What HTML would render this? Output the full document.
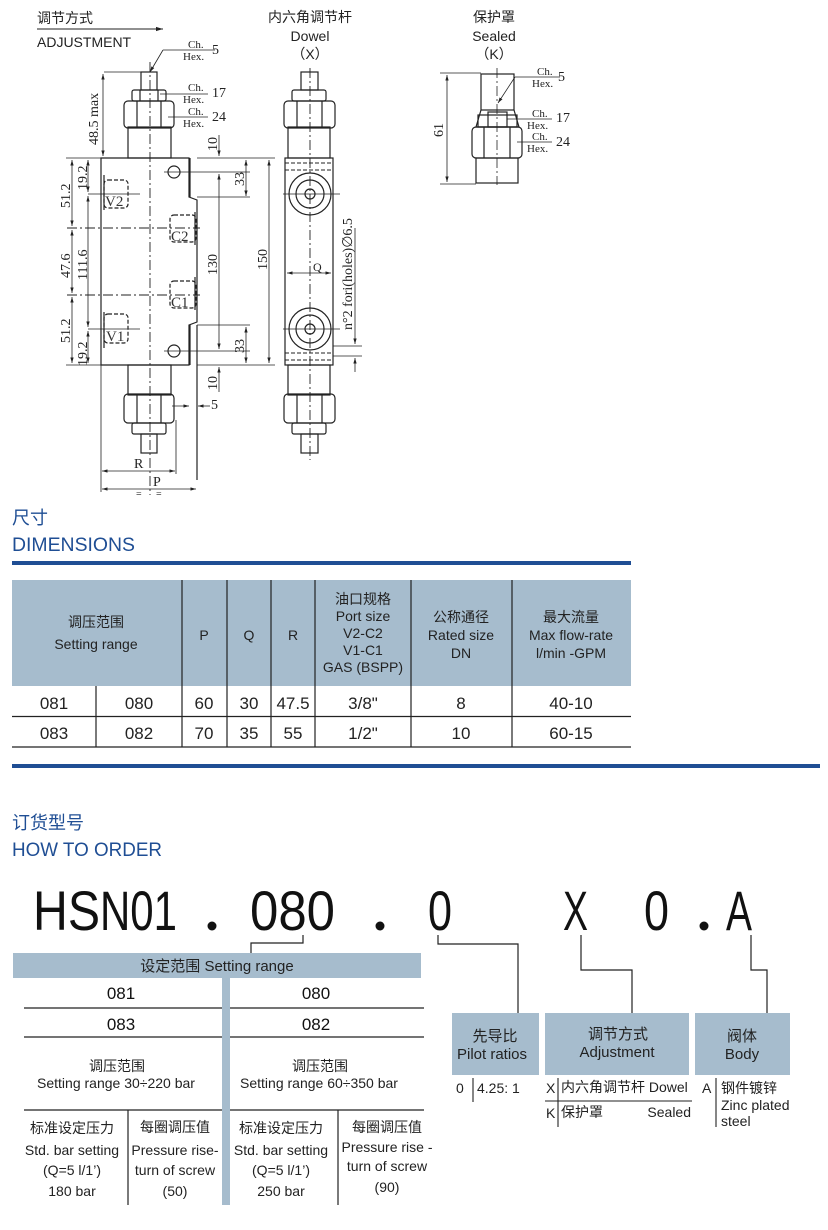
<!DOCTYPE html>
<html><head><meta charset="utf-8"><style>
html,body{margin:0;padding:0;background:#fff;}
svg{display:block}
.cn{font-family:"Liberation Sans","Noto Sans CJK SC",sans-serif}
.sr{font-family:"Liberation Serif",serif}
</style></head><body>
<svg width="828" height="1230" viewBox="0 0 828 1230" xmlns="http://www.w3.org/2000/svg" class="cn">
<defs>
<marker id="ar" viewBox="0 0 10 10" refX="10" refY="5" markerWidth="7" markerHeight="7" orient="auto-start-reverse"><path d="M0,2 L10,5 L0,8z" fill="#222"/></marker>
</defs>
<!-- ===== DRAWING ===== -->
<g fill="none" stroke="#222" stroke-width="1">
<!-- titles -->
</g>
<text x="37" y="23" font-size="14" fill="#222">调节方式</text>
<line x1="37" y1="29" x2="163" y2="29" stroke="#222" marker-end="url(#ar)"/>
<text x="37" y="47" font-size="14" fill="#222">ADJUSTMENT</text>
<text x="310" y="22" font-size="14" fill="#222" text-anchor="middle">内六角调节杆</text>
<text x="310" y="41" font-size="14" fill="#222" text-anchor="middle">Dowel</text>
<text x="310" y="59" font-size="14" fill="#222" text-anchor="middle">（X）</text>
<text x="494" y="22" font-size="14" fill="#222" text-anchor="middle">保护罩</text>
<text x="494" y="41" font-size="14" fill="#222" text-anchor="middle">Sealed</text>
<text x="494" y="59" font-size="14" fill="#222" text-anchor="middle">（K）</text>

<g fill="none" stroke="#222" stroke-width="1.2">
<!-- left body -->
<path d="M101,158 H189 V197 L197,200 V322 L189,325 V365 H101 Z"/>
<rect x="128" y="127" width="43" height="31"/>
<rect x="124" y="101" width="50" height="27" rx="4"/>
<line x1="137" y1="101" x2="137" y2="128"/><line x1="161" y1="101" x2="161" y2="128"/>
<rect x="132" y="90" width="34" height="11" rx="2"/>
<line x1="140" y1="90" x2="140" y2="101"/><line x1="158" y1="90" x2="158" y2="101"/>
<rect x="141" y="72" width="16" height="18"/>
<rect x="128" y="365" width="43" height="30"/>
<rect x="124" y="394" width="50" height="29" rx="4"/>
<line x1="137" y1="394" x2="137" y2="423"/><line x1="161" y1="394" x2="161" y2="423"/>
<rect x="132" y="423" width="34" height="11" rx="2"/>
<rect x="141" y="434" width="16" height="19"/>
<circle cx="174" cy="172" r="6"/><circle cx="174" cy="351" r="6"/>
<line x1="190" y1="158" x2="190" y2="197"/>
<line x1="190" y1="325" x2="190" y2="365"/>
<line x1="197" y1="325" x2="197" y2="480"/>
<line x1="104" y1="175" x2="104" y2="210"/><line x1="104" y1="312" x2="104" y2="348"/>
<line x1="195" y1="212" x2="195" y2="245"/><line x1="195" y1="277" x2="195" y2="310"/>
</g>
<g fill="none" stroke="#222" stroke-width="1.2" stroke-dasharray="4,2">
<rect x="104" y="180" width="24" height="28" rx="4"/>
<rect x="104" y="314" width="24" height="29" rx="4"/>
<rect x="170" y="215" width="26" height="27" rx="4"/>
<rect x="170" y="281" width="26" height="27" rx="4"/>
</g>
<g font-family="Liberation Serif,serif" font-size="15" fill="#333">
<text x="105" y="206">V2</text><text x="106" y="341">V1</text>
<text x="171" y="241">C2</text><text x="171" y="307">C1</text>
</g>
<g stroke="#222" stroke-width="0.9" fill="none" stroke-dasharray="10,3,2,3">
<line x1="150" y1="62" x2="150" y2="495"/>
<line x1="67" y1="228" x2="200" y2="228"/>
<line x1="67" y1="295" x2="200" y2="295"/>
<line x1="310" y1="68" x2="310" y2="460"/>
</g>
<g stroke="#222" stroke-width="0.8" fill="none">
<line x1="88" y1="194" x2="140" y2="194"/><line x1="88" y1="329" x2="140" y2="329"/>
<line x1="164" y1="172" x2="250" y2="172"/><line x1="164" y1="351" x2="250" y2="351"/>
<!-- extension lines -->
<line x1="66" y1="158" x2="101" y2="158"/><line x1="66" y1="365" x2="101" y2="365"/>
<line x1="104" y1="72" x2="141" y2="72"/>
<line x1="197" y1="158" x2="275" y2="158"/><line x1="197" y1="365" x2="275" y2="365"/>
<line x1="197" y1="197" x2="250" y2="197"/><line x1="197" y1="325" x2="250" y2="325"/>
<line x1="101" y1="365" x2="101" y2="492"/><line x1="176" y1="420" x2="176" y2="474"/>
<!-- dims -->
<line x1="103" y1="74" x2="103" y2="156" marker-start="url(#ar)" marker-end="url(#ar)"/>
<line x1="72" y1="160" x2="72" y2="226" marker-start="url(#ar)" marker-end="url(#ar)"/>
<line x1="72" y1="230" x2="72" y2="293" marker-start="url(#ar)" marker-end="url(#ar)"/>
<line x1="72" y1="297" x2="72" y2="363" marker-start="url(#ar)" marker-end="url(#ar)"/>
<line x1="88" y1="160" x2="88" y2="192" marker-start="url(#ar)" marker-end="url(#ar)"/>
<line x1="88" y1="196" x2="88" y2="327" marker-start="url(#ar)" marker-end="url(#ar)"/>
<line x1="88" y1="331" x2="88" y2="363" marker-start="url(#ar)" marker-end="url(#ar)"/>
<line x1="219" y1="135" x2="219" y2="156" marker-end="url(#ar)"/>
<line x1="219" y1="174" x2="219" y2="349" marker-start="url(#ar)" marker-end="url(#ar)"/>
<line x1="219" y1="367" x2="219" y2="392" marker-start="url(#ar)"/>
<line x1="246" y1="160" x2="246" y2="196" marker-start="url(#ar)" marker-end="url(#ar)"/>
<line x1="246" y1="327" x2="246" y2="363" marker-start="url(#ar)" marker-end="url(#ar)"/>
<line x1="269" y1="160" x2="269" y2="363" marker-start="url(#ar)" marker-end="url(#ar)"/>
<line x1="172" y1="406" x2="189" y2="406" marker-end="url(#ar)"/>
<line x1="210" y1="406" x2="198" y2="406" marker-end="url(#ar)"/>
<line x1="102" y1="471" x2="175" y2="471" marker-start="url(#ar)" marker-end="url(#ar)"/>
<line x1="102" y1="489" x2="196" y2="489" marker-start="url(#ar)" marker-end="url(#ar)"/>
<!-- callouts -->
<line x1="163" y1="50" x2="215" y2="50"/><line x1="163" y1="50" x2="150" y2="72" marker-end="url(#ar)"/>
<line x1="160" y1="94" x2="208" y2="94"/>
<line x1="168" y1="117" x2="208" y2="117"/>
</g>
<g font-family="Liberation Serif,serif" fill="#222">
<text x="188" y="48" font-size="11">Ch.</text><text x="183" y="60" font-size="11">Hex.</text><text x="212" y="54" font-size="14">5</text>
<text x="188" y="91" font-size="11">Ch.</text><text x="183" y="103" font-size="11">Hex.</text><text x="212" y="97" font-size="14">17</text>
<text x="188" y="115" font-size="11">Ch.</text><text x="183" y="127" font-size="11">Hex.</text><text x="212" y="121" font-size="14">24</text>
<text transform="translate(98,145) rotate(-90)" font-size="14">48.5 max</text>
<text transform="translate(70,208) rotate(-90)" font-size="14">51.2</text>
<text transform="translate(87,190) rotate(-90)" font-size="14">19.2</text>
<text transform="translate(70,278) rotate(-90)" font-size="14">47.6</text>
<text transform="translate(87,280) rotate(-90)" font-size="14">111.6</text>
<text transform="translate(70,343) rotate(-90)" font-size="14">51.2</text>
<text transform="translate(87,366) rotate(-90)" font-size="14">19.2</text>
<text transform="translate(217,151) rotate(-90)" font-size="14">10</text>
<text transform="translate(244,186) rotate(-90)" font-size="14">33</text>
<text transform="translate(217,275) rotate(-90)" font-size="14">130</text>
<text transform="translate(267,270) rotate(-90)" font-size="14">150</text>
<text transform="translate(244,353) rotate(-90)" font-size="14">33</text>
<text transform="translate(217,390) rotate(-90)" font-size="14">10</text>
<text x="211" y="409" font-size="14">5</text>
<text x="134" y="468" font-size="14">R</text>
<text x="153" y="486" font-size="14">P</text>
<text x="136" y="497" font-size="10">=</text><text x="156" y="497" font-size="10">=</text>
<text x="313" y="271" font-size="12">Q</text>
<text transform="translate(352,330) rotate(-90)" font-size="14">n°2 fori(holes)∅6.5</text>
</g>
<!-- right dowel view -->
<g fill="none" stroke="#222" stroke-width="1.2">
<rect x="285" y="158" width="48" height="207"/>
<rect x="288" y="127" width="42" height="31"/>
<rect x="284" y="101" width="51" height="27" rx="4"/>
<line x1="297" y1="101" x2="297" y2="128"/><line x1="322" y1="101" x2="322" y2="128"/>
<rect x="292" y="90" width="34" height="11" rx="2"/>
<rect x="301" y="72" width="17" height="18"/>
<rect x="288" y="365" width="42" height="30"/>
<rect x="284" y="394" width="51" height="29" rx="4"/>
<line x1="297" y1="394" x2="297" y2="423"/><line x1="322" y1="394" x2="322" y2="423"/>
<rect x="292" y="423" width="34" height="11" rx="2"/>
<rect x="301" y="434" width="17" height="19"/>
<circle cx="310" cy="194" r="21"/><circle cx="310" cy="194" r="14"/><circle cx="310" cy="194" r="5"/>
<circle cx="310" cy="329" r="21"/><circle cx="310" cy="329" r="14"/><circle cx="310" cy="329" r="5"/>
</g>
<g stroke="#222" stroke-width="0.8" fill="none">
<line x1="283" y1="194" x2="340" y2="194"/><line x1="283" y1="329" x2="340" y2="329"/>
<line x1="287" y1="273" x2="331" y2="273" marker-start="url(#ar)" marker-end="url(#ar)"/>
<line x1="333" y1="346" x2="362" y2="346"/><line x1="333" y1="356" x2="362" y2="356"/>
<line x1="355" y1="228" x2="355" y2="344" marker-end="url(#ar)"/>
<line x1="355" y1="372" x2="355" y2="358" marker-end="url(#ar)"/>
</g>
<g fill="none" stroke="#222" stroke-width="1" stroke-dasharray="4,2">
<line x1="285" y1="170" x2="333" y2="170"/><line x1="285" y1="353" x2="333" y2="353"/>
<line x1="285" y1="163" x2="333" y2="163"/><line x1="285" y1="360" x2="333" y2="360"/>
</g>
<!-- K view -->
<g fill="none" stroke="#222" stroke-width="1.2">
<rect x="481" y="74" width="33" height="36"/>
<path d="M481,110 L476,127 H519 L514,110"/>
<rect x="488" y="112" width="19" height="15"/>
<rect x="478" y="115" width="39" height="12"/>
<rect x="472" y="127" width="50" height="31" rx="4"/>
<line x1="484" y1="127" x2="484" y2="158"/><line x1="510" y1="127" x2="510" y2="158"/>
<rect x="476" y="158" width="42" height="25"/>
</g>
<g stroke="#222" stroke-width="0.8" fill="none">
<line x1="497" y1="68" x2="497" y2="185" stroke-dasharray="10,3,2,3"/>
<line x1="440" y1="73" x2="481" y2="73"/><line x1="440" y1="184" x2="476" y2="184"/>
<line x1="447" y1="75" x2="447" y2="182" marker-start="url(#ar)" marker-end="url(#ar)"/>
<line x1="515" y1="77" x2="560" y2="77"/><line x1="515" y1="77" x2="498" y2="103" marker-end="url(#ar)"/>
<line x1="507" y1="119" x2="552" y2="119"/>
<line x1="517" y1="142" x2="552" y2="142"/>
</g>
<g font-family="Liberation Serif,serif" fill="#222">
<text x="537" y="75" font-size="11">Ch.</text><text x="532" y="87" font-size="11">Hex.</text><text x="558" y="81" font-size="14">5</text>
<text x="532" y="117" font-size="11">Ch.</text><text x="527" y="129" font-size="11">Hex.</text><text x="556" y="122" font-size="14">17</text>
<text x="532" y="140" font-size="11">Ch.</text><text x="527" y="152" font-size="11">Hex.</text><text x="556" y="146" font-size="14">24</text>
<text transform="translate(443,137) rotate(-90)" font-size="14">61</text>
</g>

<!-- ===== DIMENSIONS ===== -->
<text x="12" y="524" font-size="18" fill="#1f4e94">尺寸</text>
<text x="12" y="551" font-size="19" fill="#1f4e94" textLength="123" lengthAdjust="spacingAndGlyphs">DIMENSIONS</text>
<rect x="12" y="561" width="619" height="4" fill="#1f4e94"/>
<rect x="12" y="580" width="619" height="106" fill="#a6bccd"/>
<g stroke="#222" stroke-width="1.2">
<line x1="182" y1="580" x2="182" y2="747"/><line x1="227" y1="580" x2="227" y2="747"/>
<line x1="271" y1="580" x2="271" y2="747"/><line x1="315" y1="580" x2="315" y2="747"/>
<line x1="411" y1="580" x2="411" y2="747"/><line x1="512" y1="580" x2="512" y2="747"/>
<line x1="96" y1="686" x2="96" y2="747"/>
<line x1="12" y1="716.5" x2="631" y2="716.5"/><line x1="12" y1="747" x2="631" y2="747"/>
</g>
<g font-size="14" fill="#222" text-anchor="middle">
<text x="96" y="627">调压范围</text><text x="96" y="649">Setting range</text>
<text x="204" y="640">P</text><text x="249" y="640">Q</text><text x="293" y="640">R</text>
<text x="363" y="604">油口规格</text><text x="363" y="621">Port size</text><text x="363" y="638">V2-C2</text><text x="363" y="655">V1-C1</text><text x="363" y="672">GAS (BSPP)</text>
<text x="461" y="622">公称通径</text><text x="461" y="640">Rated size</text><text x="461" y="658">DN</text>
<text x="571" y="622">最大流量</text><text x="571" y="640">Max flow-rate</text><text x="571" y="658">l/min -GPM</text>
</g>
<g font-size="17" fill="#222" text-anchor="middle">
<text x="54" y="709">081</text><text x="139" y="709">080</text><text x="204" y="709">60</text><text x="249" y="709">30</text><text x="293" y="709">47.5</text><text x="363" y="709">3/8"</text><text x="461" y="709">8</text><text x="571" y="709">40-10</text>
<text x="54" y="739">083</text><text x="139" y="739">082</text><text x="204" y="739">70</text><text x="249" y="739">35</text><text x="293" y="739">55</text><text x="363" y="739">1/2"</text><text x="461" y="739">10</text><text x="571" y="739">60-15</text>
</g>
<rect x="12" y="764" width="808" height="4" fill="#1f4e94"/>

<!-- ===== HOW TO ORDER ===== -->
<text x="12" y="829" font-size="18" fill="#1f4e94">订货型号</text>
<text x="12" y="856" font-size="19" fill="#1f4e94" textLength="150" lengthAdjust="spacingAndGlyphs">HOW TO ORDER</text>
<text x="33" y="930" font-size="56" fill="#111" textLength="67" lengthAdjust="spacingAndGlyphs">HS</text>
<g font-family="Liberation Sans Narrow,Liberation Sans,sans-serif" font-size="56" fill="#111">
<text x="100" y="930" textLength="77" lengthAdjust="spacingAndGlyphs">N01</text>
<text x="250" y="930" textLength="85" lengthAdjust="spacingAndGlyphs">080</text>
<text x="428" y="930" textLength="24" lengthAdjust="spacingAndGlyphs">0</text>
<text x="563" y="930" textLength="25" lengthAdjust="spacingAndGlyphs">X</text>
<text x="644" y="930" textLength="25" lengthAdjust="spacingAndGlyphs">0</text>
<text x="726" y="930" textLength="26" lengthAdjust="spacingAndGlyphs">A</text>
</g>
<g fill="#111"><circle cx="212" cy="926" r="4.5"/><circle cx="380" cy="926" r="4.5"/><circle cx="704" cy="926" r="4.5"/></g>
<g stroke="#222" stroke-width="1.2" fill="none">
<path d="M303,935 V943 H251 V953"/>
<path d="M438,935 V944 H518 V1013"/>
<path d="M581,935 V970 H632 V1013"/>
<path d="M751,935 V970 H767 V1013"/>
</g>
<rect x="13" y="953" width="408" height="25" fill="#a6bccd"/>
<text x="217" y="971" font-size="15" fill="#222" text-anchor="middle">设定范围 Setting range</text>
<rect x="222" y="978" width="8" height="227" fill="#a6bccd"/>
<g stroke="#222" stroke-width="1.2">
<line x1="24" y1="1008" x2="222" y2="1008"/><line x1="230" y1="1008" x2="424" y2="1008"/>
<line x1="24" y1="1037" x2="222" y2="1037"/><line x1="230" y1="1037" x2="424" y2="1037"/>
<line x1="24" y1="1110" x2="222" y2="1110"/><line x1="230" y1="1110" x2="424" y2="1110"/>
<line x1="128" y1="1110" x2="128" y2="1205"/><line x1="338" y1="1110" x2="338" y2="1205"/>
</g>
<g font-size="17" fill="#111" text-anchor="middle">
<text x="121" y="999">081</text><text x="316" y="999">080</text>
<text x="121" y="1030">083</text><text x="316" y="1030">082</text>
</g>
<g font-size="14" fill="#222" text-anchor="middle">
<text x="117" y="1071">调压范围</text><text x="116" y="1088">Setting range 30÷220 bar</text>
<text x="320" y="1071">调压范围</text><text x="319" y="1088">Setting range 60÷350 bar</text>
<text x="72" y="1133">标准设定压力</text><text x="72" y="1155">Std. bar setting</text><text x="72" y="1175">(Q=5 l/1’)</text><text x="72" y="1196">180 bar</text>
<text x="175" y="1132">每圈调压值</text><text x="175" y="1155">Pressure rise-</text><text x="175" y="1175">turn of screw</text><text x="175" y="1196">(50)</text>
<text x="281" y="1133">标准设定压力</text><text x="281" y="1155">Std. bar setting</text><text x="281" y="1175">(Q=5 l/1’)</text><text x="281" y="1196">250 bar</text>
<text x="387" y="1132">每圈调压值</text><text x="387" y="1152">Pressure rise -</text><text x="387" y="1171">turn of screw</text><text x="387" y="1192">(90)</text>
</g>
<rect x="452" y="1013" width="87" height="62" fill="#a6bccd"/>
<rect x="545" y="1013" width="144" height="62" fill="#a6bccd"/>
<rect x="695" y="1013" width="95" height="62" fill="#a6bccd"/>
<g font-size="15" fill="#222" text-anchor="middle">
<text x="495" y="1041">先导比</text><text x="492" y="1059">Pilot ratios</text>
<text x="618" y="1039">调节方式</text><text x="617" y="1057">Adjustment</text>
<text x="742" y="1041">阀体</text><text x="742" y="1059">Body</text>
</g>
<g stroke="#222" stroke-width="1.1">
<line x1="473" y1="1078" x2="473" y2="1102"/>
<line x1="558" y1="1078" x2="558" y2="1127"/>
<line x1="545" y1="1101" x2="692" y2="1101"/>
<line x1="716" y1="1078" x2="716" y2="1127"/>
</g>
<g font-size="14" fill="#222">
<text x="456" y="1093">0</text><text x="477" y="1093">4.25: 1</text>
<text x="546" y="1093">X</text><text x="561" y="1092">内六角调节杆 Dowel</text>
<text x="546" y="1118">K</text><text x="561" y="1117">保护罩</text><text x="691" y="1117" text-anchor="end">Sealed</text>
<text x="702" y="1093">A</text><text x="721" y="1093">钢件镀锌</text><text x="721" y="1110">Zinc plated</text><text x="721" y="1126">steel</text>
</g>
</svg>
</body></html>
